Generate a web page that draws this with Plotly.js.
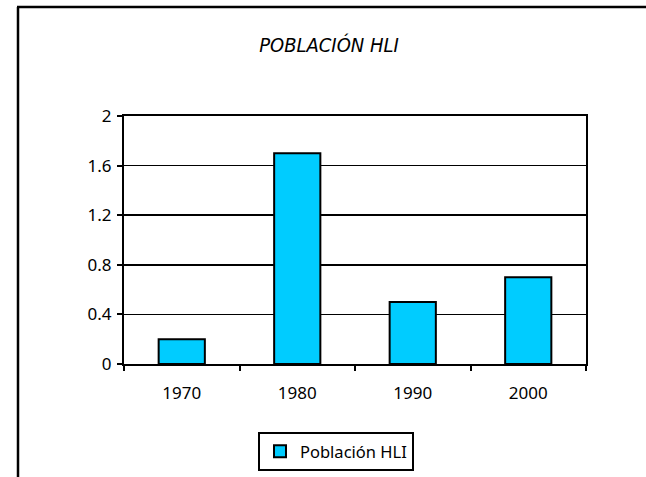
<!DOCTYPE html>
<html>
<head>
<meta charset="utf-8">
<script src="https://cdn.plot.ly/plotly-3.0.1.min.js"></script>
<style>html,body{margin:0;padding:0;background:#fff;overflow:hidden}#chart{width:646px;height:477px}</style>
</head>
<body>
<div id="chart"></div>
<script>
const categories = ["1970", "1980", "1990", "2000"];
const poblacionHLI = [0.2, 1.7, 0.5, 0.7];
const yTickVals = [0, 0.4, 0.8, 1.2, 1.6, 2];
const yTickText = ["0", "0.4", "0.8", "1.2", "1.6", "2"];

const L = 124, R = 586, T = 116, B = 364, W = 646, H = 477;
const px = v => (v - L) / (R - L);
const py = v => (B - v) / (B - T);
const tickFont = {family: 'Noto Sans, Open Sans, DejaVu Sans, sans-serif', size: 17, color: '#000'};

const trace = {
  type: 'bar',
  x: categories,
  y: poblacionHLI,
  name: 'Población HLI',
  marker: {color: '#00CCFF', line: {color: '#000', width: 2}},
  hoverinfo: 'x+y'
};

const layout = {
  width: W, height: H,
  margin: {l: L, r: W - R, t: T, b: H - B, pad: 0, autoexpand: false},
  paper_bgcolor: '#fff', plot_bgcolor: '#fff',
  bargap: 0.6,
  showlegend: true,
  title: {
    text: 'POBLACIÓN HLI',
    font: {family: 'Liberation Sans Narrow, DejaVu Sans Condensed, Arial Narrow, sans-serif', size: 20, color: '#000', style: 'italic'},
    xref: 'container', yref: 'container',
    x: 329 / W, y: 1 - 45 / H, xanchor: 'center', yanchor: 'middle'
  },
  font: tickFont,
  xaxis: {
    type: 'category',
    automargin: false,
    tickson: 'boundaries',
    ticks: 'outside', ticklen: 5, tickwidth: 2, tickcolor: '#000',
    showline: true, linecolor: '#000', linewidth: 2, mirror: true,
    showgrid: false, zeroline: false,
    ticklabelstandoff: 13,
    tickfont: tickFont,
    fixedrange: true
  },
  yaxis: {
    range: [0, 2],
    automargin: false,
    tickvals: yTickVals, ticktext: yTickText,
    ticks: 'outside', ticklen: 5, tickwidth: 2, tickcolor: '#000',
    showline: true, linecolor: '#000', linewidth: 2, mirror: true,
    showgrid: true, gridcolor: '#000', gridwidth: 1.5,
    zeroline: false,
    ticklabelstandoff: 2,
    tickfont: tickFont,
    fixedrange: true
  },
  legend: {
    x: px(258), y: py(432), xanchor: 'left', yanchor: 'top',
    bgcolor: '#fff', bordercolor: '#000', borderwidth: 2,
    font: {family: 'Noto Sans, Open Sans, DejaVu Sans, sans-serif', size: 16.5, color: '#000'},
    itemwidth: 30
  },
  shapes: [
    {type: 'line', xref: 'paper', yref: 'paper', x0: px(18), x1: px(18), y0: py(7), y1: py(480), line: {color: '#000', width: 2.5}},
    {type: 'line', xref: 'paper', yref: 'paper', x0: px(17), x1: px(646), y0: py(7), y1: py(7), line: {color: '#000', width: 2.5}}
  ]
};

Plotly.newPlot('chart', [trace], layout, {displayModeBar: false, staticPlot: true});
</script>
</body>
</html>
